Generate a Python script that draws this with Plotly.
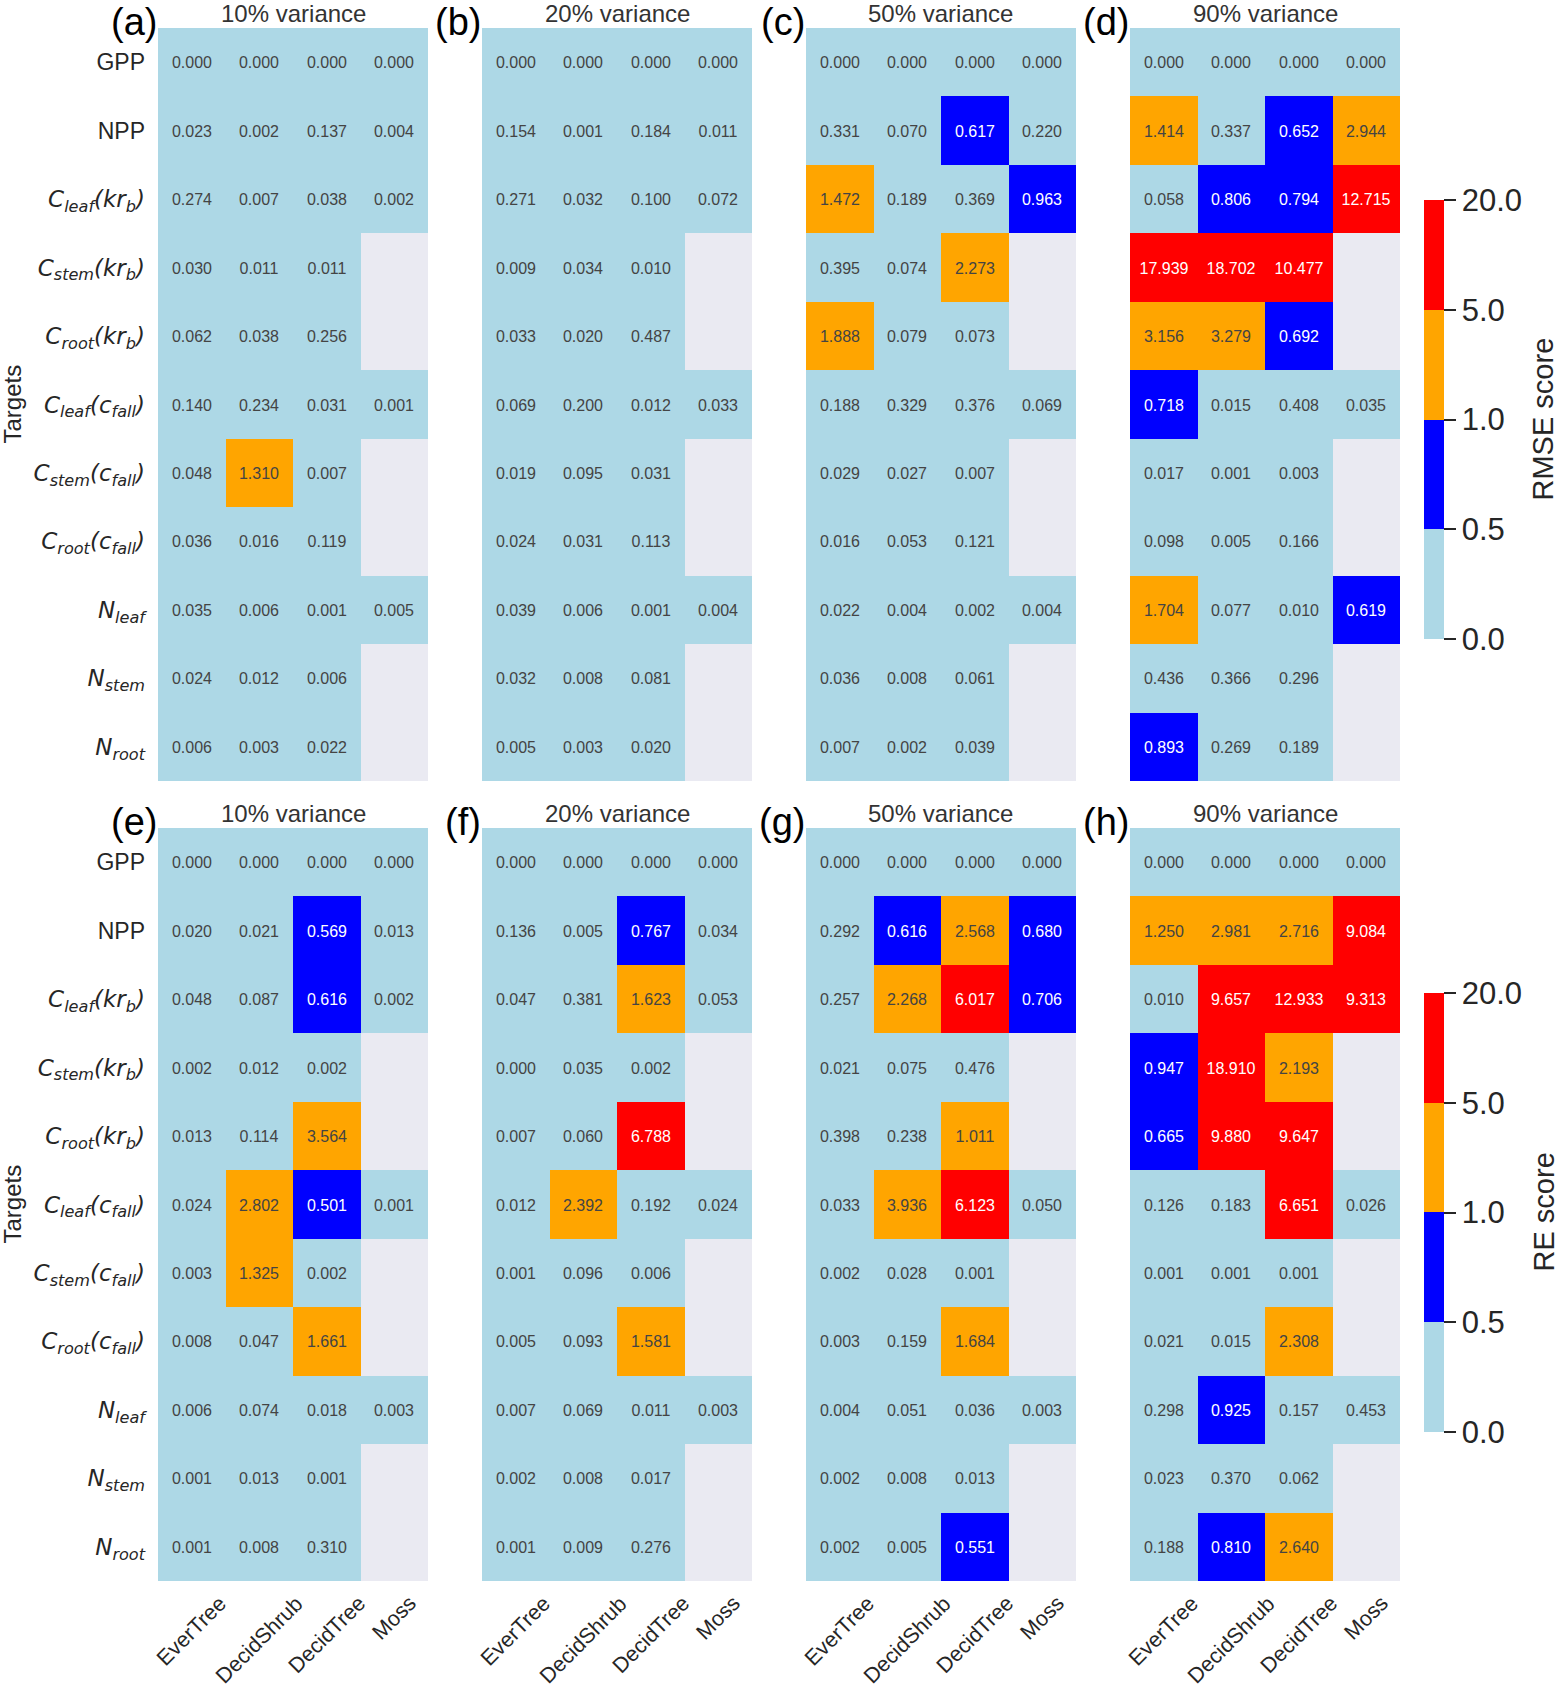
import numpy as np
import plotly.graph_objects as go

W, H = 1558, 1692


def math(s):
    return '<span style="font-family:DejaVu Sans"><i>' + s + '</i></span>'


targets = ["GPP", "NPP",
           math("C<sub>leaf</sub>(kr<sub>b</sub>)"),
           math("C<sub>stem</sub>(kr<sub>b</sub>)"),
           math("C<sub>root</sub>(kr<sub>b</sub>)"),
           math("C<sub>leaf</sub>(c<sub>fall</sub>)"),
           math("C<sub>stem</sub>(c<sub>fall</sub>)"),
           math("C<sub>root</sub>(c<sub>fall</sub>)"),
           math("N<sub>leaf</sub>"),
           math("N<sub>stem</sub>"),
           math("N<sub>root</sub>")]
pfts = ["EverTree", "DecidShrub", "DecidTree", "Moss"]
variances = ["10% variance", "20% variance", "50% variance", "90% variance"]
panel_letters = ["(a)", "(b)", "(c)", "(d)", "(e)", "(f)", "(g)", "(h)"]

# colour classes
bounds = [0.0, 0.5, 1.0, 5.0, 20.0]
class_colors = ["lightblue", "blue", "orange", "red"]

# RMSE score (top row)
rmse_10 = [[0.000, 0.000, 0.000, 0.000],
           [0.023, 0.002, 0.137, 0.004],
           [0.274, 0.007, 0.038, 0.002],
           [0.030, 0.011, 0.011, None],
           [0.062, 0.038, 0.256, None],
           [0.140, 0.234, 0.031, 0.001],
           [0.048, 1.310, 0.007, None],
           [0.036, 0.016, 0.119, None],
           [0.035, 0.006, 0.001, 0.005],
           [0.024, 0.012, 0.006, None],
           [0.006, 0.003, 0.022, None]]
rmse_20 = [[0.000, 0.000, 0.000, 0.000],
           [0.154, 0.001, 0.184, 0.011],
           [0.271, 0.032, 0.100, 0.072],
           [0.009, 0.034, 0.010, None],
           [0.033, 0.020, 0.487, None],
           [0.069, 0.200, 0.012, 0.033],
           [0.019, 0.095, 0.031, None],
           [0.024, 0.031, 0.113, None],
           [0.039, 0.006, 0.001, 0.004],
           [0.032, 0.008, 0.081, None],
           [0.005, 0.003, 0.020, None]]
rmse_50 = [[0.000, 0.000, 0.000, 0.000],
           [0.331, 0.070, 0.617, 0.220],
           [1.472, 0.189, 0.369, 0.963],
           [0.395, 0.074, 2.273, None],
           [1.888, 0.079, 0.073, None],
           [0.188, 0.329, 0.376, 0.069],
           [0.029, 0.027, 0.007, None],
           [0.016, 0.053, 0.121, None],
           [0.022, 0.004, 0.002, 0.004],
           [0.036, 0.008, 0.061, None],
           [0.007, 0.002, 0.039, None]]
rmse_90 = [[0.000, 0.000, 0.000, 0.000],
           [1.414, 0.337, 0.652, 2.944],
           [0.058, 0.806, 0.794, 12.715],
           [17.939, 18.702, 10.477, None],
           [3.156, 3.279, 0.692, None],
           [0.718, 0.015, 0.408, 0.035],
           [0.017, 0.001, 0.003, None],
           [0.098, 0.005, 0.166, None],
           [1.704, 0.077, 0.010, 0.619],
           [0.436, 0.366, 0.296, None],
           [0.893, 0.269, 0.189, None]]

# RE score (bottom row)
re_10 = [[0.000, 0.000, 0.000, 0.000],
         [0.020, 0.021, 0.569, 0.013],
         [0.048, 0.087, 0.616, 0.002],
         [0.002, 0.012, 0.002, None],
         [0.013, 0.114, 3.564, None],
         [0.024, 2.802, 0.501, 0.001],
         [0.003, 1.325, 0.002, None],
         [0.008, 0.047, 1.661, None],
         [0.006, 0.074, 0.018, 0.003],
         [0.001, 0.013, 0.001, None],
         [0.001, 0.008, 0.310, None]]
re_20 = [[0.000, 0.000, 0.000, 0.000],
         [0.136, 0.005, 0.767, 0.034],
         [0.047, 0.381, 1.623, 0.053],
         [0.000, 0.035, 0.002, None],
         [0.007, 0.060, 6.788, None],
         [0.012, 2.392, 0.192, 0.024],
         [0.001, 0.096, 0.006, None],
         [0.005, 0.093, 1.581, None],
         [0.007, 0.069, 0.011, 0.003],
         [0.002, 0.008, 0.017, None],
         [0.001, 0.009, 0.276, None]]
re_50 = [[0.000, 0.000, 0.000, 0.000],
         [0.292, 0.616, 2.568, 0.680],
         [0.257, 2.268, 6.017, 0.706],
         [0.021, 0.075, 0.476, None],
         [0.398, 0.238, 1.011, None],
         [0.033, 3.936, 6.123, 0.050],
         [0.002, 0.028, 0.001, None],
         [0.003, 0.159, 1.684, None],
         [0.004, 0.051, 0.036, 0.003],
         [0.002, 0.008, 0.013, None],
         [0.002, 0.005, 0.551, None]]
re_90 = [[0.000, 0.000, 0.000, 0.000],
         [1.250, 2.981, 2.716, 9.084],
         [0.010, 9.657, 12.933, 9.313],
         [0.947, 18.910, 2.193, None],
         [0.665, 9.880, 9.647, None],
         [0.126, 0.183, 6.651, 0.026],
         [0.001, 0.001, 0.001, None],
         [0.021, 0.015, 2.308, None],
         [0.298, 0.925, 0.157, 0.453],
         [0.023, 0.370, 0.062, None],
         [0.188, 0.810, 2.640, None]]

panels = [rmse_10, rmse_20, rmse_50, rmse_90, re_10, re_20, re_50, re_90]
score_titles = ["RMSE score", "RE score"]

# layout geometry (pixels)
col_left = [158, 482, 806, 1130]
cell_w = 270
row_top = [28, 828]
cell_h = 753
cbar_x = 1424
cbar_top = [200, 993]
cbar_len = 439

font_main = "Liberation Sans, Arial, sans-serif"
txt_col = "#262626"

# discrete colour scale over class index 0..4
cscale = []
for k, c in enumerate(class_colors):
    cscale.append([k / 4, c])
    cscale.append([(k + 1) / 4, c])

fig = go.Figure()
layout = dict(width=W, height=H, margin=dict(l=0, r=0, t=0, b=0),
              paper_bgcolor="white", plot_bgcolor="#EAEAF2",
              font=dict(family=font_main, color=txt_col))
annotations = []

for i, vals in enumerate(panels):
    r, c = divmod(i, 4)
    n = "" if i == 0 else str(i + 1)
    arr = np.array(vals, dtype=float)
    z = np.interp(arr, bounds, np.arange(len(bounds)))
    z[np.isnan(arr)] = np.nan
    text = [["" if v is None else f"{v:.3f}" for v in row] for row in vals]
    fig.add_trace(go.Heatmap(
        z=z, x=list(range(len(pfts))), y=list(range(len(targets))),
        text=text, texttemplate="%{text}",
        textfont=dict(size=16, family=font_main),
        coloraxis="coloraxis" if r == 0 else "coloraxis2",
        xaxis="x" + n, yaxis="y" + n, hoverinfo="skip"))

    x0 = col_left[c] / W
    x1 = (col_left[c] + cell_w) / W
    ytop = 1 - row_top[r] / H
    ybot = 1 - (row_top[r] + cell_h) / H
    layout["xaxis" + n] = dict(domain=[x0, x1], range=[-0.5, 3.5],
                               showticklabels=False, showgrid=False,
                               zeroline=False, anchor="y" + n)
    layout["yaxis" + n] = dict(domain=[ybot, ytop], range=[10.5, -0.5],
                               tickvals=list(range(len(targets))),
                               ticktext=targets, showticklabels=(c == 0),
                               ticks="", ticklabelstandoff=12,
                               tickfont=dict(size=23, color=txt_col),
                               showgrid=False, zeroline=False,
                               anchor="x" + n)

    # subplot title and panel letter
    annotations.append(dict(text=variances[c], xref="paper", yref="paper",
                            x=(x0 + x1) / 2, y=1 - (row_top[r] - 15) / H,
                            xanchor="center", yanchor="middle",
                            showarrow=False,
                            font=dict(size=24, color="#333333")))
    annotations.append(dict(text=panel_letters[i], xref="paper", yref="paper",
                            x=x0 + 1 / W, y=1 - (row_top[r] - 6) / H,
                            xanchor="right", yanchor="middle",
                            showarrow=False,
                            font=dict(size=38, color="black")))
    if c == 0:
        annotations.append(dict(text="Targets", xref="paper", yref="paper",
                                x=12 / W, y=(ytop + ybot) / 2,
                                xanchor="center", yanchor="middle",
                                textangle=-90, showarrow=False,
                                font=dict(size=24, color=txt_col)))
    if r == 1:
        for j, name in enumerate(pfts):
            annotations.append(dict(
                text=name, xref="x" + n, yref="paper",
                x=j, y=ybot - 8 / H, xanchor="center", yanchor="top",
                textangle=-45, showarrow=False,
                font=dict(size=21.5, color=txt_col)))

for r in range(2):
    key = "coloraxis" if r == 0 else "coloraxis2"
    layout[key] = dict(
        cmin=0, cmax=4, colorscale=cscale,
        colorbar=dict(
            x=cbar_x / W, xanchor="left", xpad=0,
            y=1 - cbar_top[r] / H, yanchor="top", ypad=0,
            len=cbar_len / H, lenmode="fraction", thickness=20,
            outlinewidth=0,
            tickvals=list(range(len(bounds))),
            ticktext=[f"{b:.1f}" for b in bounds],
            ticks="outside", ticklen=12, tickwidth=2, tickcolor=txt_col,
            tickfont=dict(size=31, color=txt_col)))
    annotations.append(dict(text=score_titles[r], xref="paper", yref="paper",
                            x=1543 / W,
                            y=1 - (cbar_top[r] + cbar_len / 2) / H,
                            xanchor="center", yanchor="middle",
                            textangle=-90, showarrow=False,
                            font=dict(size=29, color=txt_col)))

layout["annotations"] = annotations
fig.update_layout(**layout)
# the page body has a default 8px margin; drop it so the figure fills the window
fig.write_html("out.html", config={"displayModeBar": False},
               post_script="document.body.style.margin='0';"
                           "document.body.style.overflow='hidden';")
